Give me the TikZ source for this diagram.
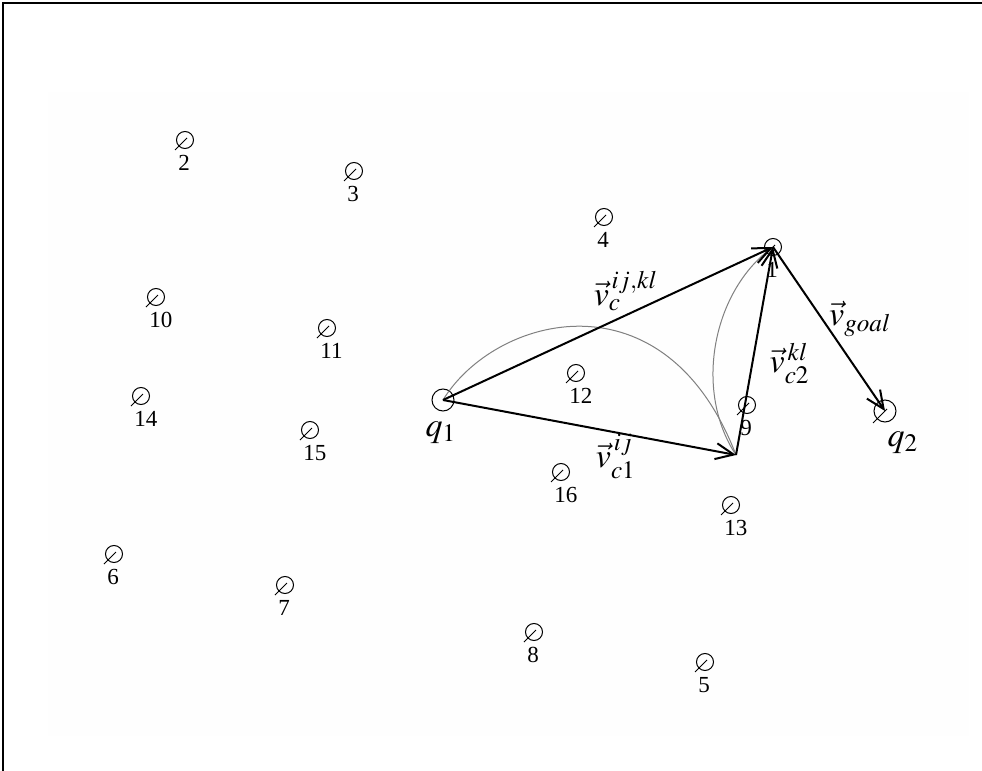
\documentclass[tikz,border=0pt]{standalone}
\usepackage{amsmath}
\usepackage{mathptmx}
\usepackage{fontspec}
\setmainfont{Liberation Serif}
\usetikzlibrary{arrows.meta,positioning,calc}

\begin{document}
\begin{tikzpicture}[x=0.5pt,y=-0.5pt,>={Straight Barb[length=9pt,width=8pt]},
  pt/.style={draw,circle,minimum size=8.5pt,inner sep=0pt,line width=0.5pt},
  goal/.style={draw,circle,minimum size=11pt,inner sep=0pt,line width=0.5pt},
  num/.style={font=\fontsize{11.5}{13}\selectfont,inner sep=0pt},
  vec/.style={line width=1pt},
  arc/.style={gray,line width=0.5pt},
  lbl/.style={font=\fontsize{17}{19}\selectfont,inner sep=1pt}]
\useasboundingbox (0,0) rectangle (982,771);
% frame and faint field
\fill[black!0.5] (48,92) rectangle (969,736);
\draw[line width=1.4pt] (982,3) -- (3,3) -- (3,771);
% numbered points
\foreach \n/\x/\y in {2/185/140,3/354/171,4/604/217,1/773/247,10/156/297,11/327/328,
  12/576/373,14/141/396,9/747/405,15/310/430,16/561/472,13/731/505,6/114/554,
  7/285/585,8/534/632,5/705/662}{
  \node[pt] (p\n) at (\x,\y) {};
  \draw[line width=0.5pt] ($(p\n)+(2,-2)$) -- ++(-12,12);
  \node[num,below=3pt of p\n,anchor=north west,xshift=-3.5pt] (l\n) {\n};
}
% start and goal
\node[goal] (q1) at (443,400) {};
\node[goal] (q2) at (885,411) {};
\draw[line width=0.5pt] ($(q2)+(2,-2)$) -- ++(-14,14);
\node[lbl,below=4pt of q1,xshift=-1pt] (lq1) {$q_1$};
\node[lbl,below right=5pt and -4pt of q2] (lq2) {$q_2$};
\coordinate (c) at (736,455);
% arcs
\draw[arc] (q1.center) .. controls (495,315) and (665,270) .. (c);
\draw[arc] (c) .. controls (693,390) and (713,290) .. (p1.center);
% vectors
\draw[vec,->] (q1.center) -- node[lbl,pos=0.53,xshift=4pt,yshift=14pt] {$\vec{v}_{c}^{\,ij,kl}$} (p1.center);
\draw[vec,->] (q1.center) -- node[lbl,pos=0.59,yshift=-12pt] {$\vec{v}_{c1}^{\,ij}$} (c);
\draw[vec,->] (c) -- node[lbl,pos=0.45,xshift=18.5pt,yshift=-1pt] {$\vec{v}_{c2}^{\,kl}$} (p1.center);
\draw[vec,->] (p1.center) -- node[lbl,pos=0.44,xshift=19pt] {$\vec{v}_{goal}$} (q2.center);
\end{tikzpicture}
\end{document}
